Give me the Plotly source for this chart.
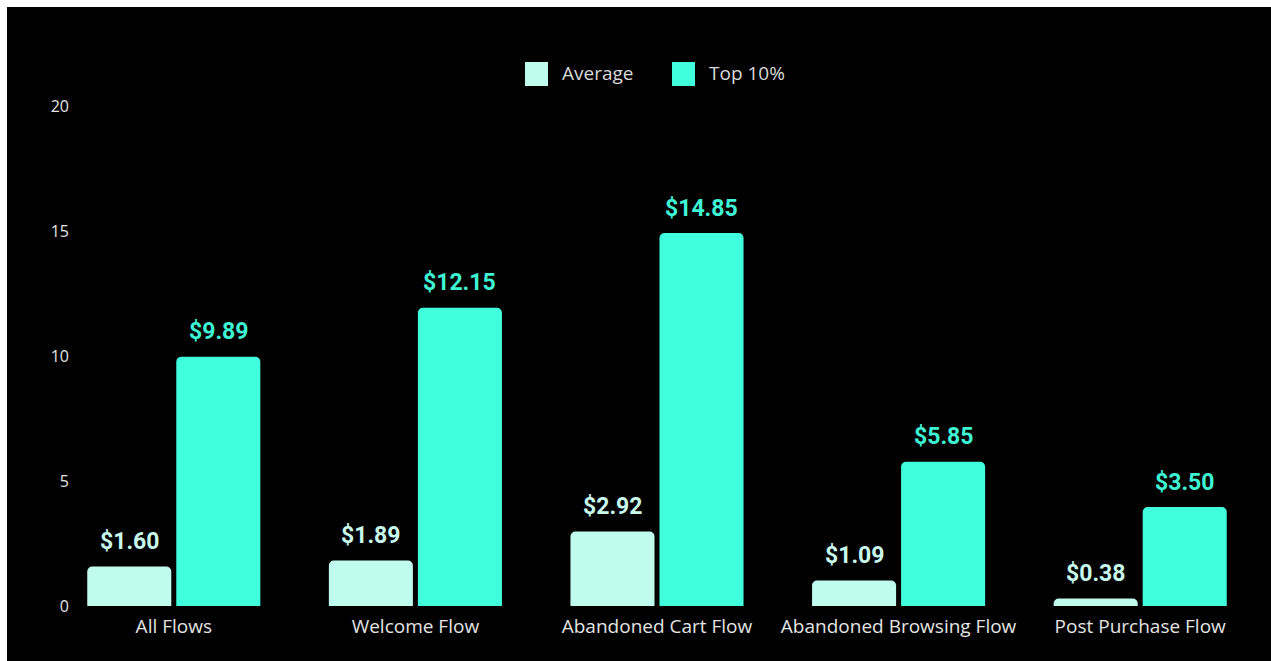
import plotly.graph_objects as go

categories = ["All Flows", "Welcome Flow", "Abandoned Cart Flow", "Abandoned Browsing Flow", "Post Purchase Flow"]
avg_values = [1.58, 1.82, 2.98, 1.02, 0.30]
top_values = [9.97, 11.93, 14.92, 5.77, 3.96]
avg_labels = ["$1.60", "$1.89", "$2.92", "$1.09", "$0.38"]
top_labels = ["$9.89", "$12.15", "$14.85", "$5.85", "$3.50"]
series_names = ["Average", "Top 10%"]
y_ticks = [0, 5, 10, 15, 20]

AVG_COLOR = "#C0FCEE"
TOP_COLOR = "#40FFDC"
AVG_TEXT = "#C8F8EC"
TOP_TEXT = "#3EF4D4"

W, H = 1271, 661
ML, MR, MT, MB = 78, 10, 106, 55
PW, PH = W - ML - MR, H - MT - MB
BARGAP = 0.263
GROUPGAP = 0.056

fig = go.Figure()
fig.add_bar(x=categories, y=avg_values, name=series_names[0], marker_color=AVG_COLOR,
            marker_line_width=0, showlegend=False)
fig.add_bar(x=categories, y=top_values, name=series_names[1], marker_color=TOP_COLOR,
            marker_line_width=0, showlegend=False)

slot = (1 - BARGAP) / 2
annotations = []
for i in range(len(categories)):
    for vals, labs, col, off in ((avg_values, avg_labels, AVG_TEXT, -slot / 2),
                                 (top_values, top_labels, TOP_TEXT, slot / 2)):
        annotations.append(dict(x=i + off, y=vals[i], xref="x", yref="y", text="<b>%s</b>" % labs[i],
                                showarrow=False, yanchor="middle", yshift=25,
                                font=dict(family="Roboto", size=23, color=col)))

def px_x(p):
    return (p - ML) / PW

def px_y(p):
    return (H - MB - p) / PH

# manual legend
legend_items = [(525, series_names[0], AVG_COLOR), (672, series_names[1], TOP_COLOR)]
shapes = []
for x0, name, col in legend_items:
    shapes.append(dict(type="rect", xref="paper", yref="paper",
                       x0=px_x(x0), x1=px_x(x0 + 23), y0=px_y(86), y1=px_y(62),
                       fillcolor=col, line_width=0, layer="above"))
    annotations.append(dict(x=px_x(x0 + 35), y=px_y(73), xref="paper", yref="paper",
                            text=name, showarrow=False, xanchor="left", yanchor="middle",
                            font=dict(family="Open Sans", size=19, color="#DADADA")))

# white frame strips on left and top
shapes.append(dict(type="rect", xref="paper", yref="paper", x0=px_x(0), x1=px_x(7),
                   y0=px_y(H), y1=px_y(0), fillcolor="white", line_width=0, layer="above"))
shapes.append(dict(type="rect", xref="paper", yref="paper", x0=px_x(0), x1=px_x(W),
                   y0=px_y(7), y1=px_y(0), fillcolor="white", line_width=0, layer="above"))

fig.update_layout(
    width=W, height=H,
    margin=dict(l=ML, r=MR, t=MT, b=MB, pad=0),
    paper_bgcolor="black", plot_bgcolor="black",
    barmode="group", bargap=BARGAP, bargroupgap=GROUPGAP,
    barcornerradius=5,
    showlegend=False,
    annotations=annotations, shapes=shapes,
    xaxis=dict(range=[-0.5 + 25 / 241.5, len(categories) - 0.5], showgrid=False, zeroline=False,
               showline=False, ticks="", ticklabelstandoff=7,
               tickfont=dict(family="Open Sans", size=19, color="#E4E4E4")),
    yaxis=dict(range=[0, 20], tickvals=y_ticks, showgrid=False, zeroline=False, showline=False,
               ticks="", ticklabelstandoff=8,
               tickfont=dict(family="Open Sans", size=16, color="#E4E4E4")),
)

fig.write_html("out.html")
